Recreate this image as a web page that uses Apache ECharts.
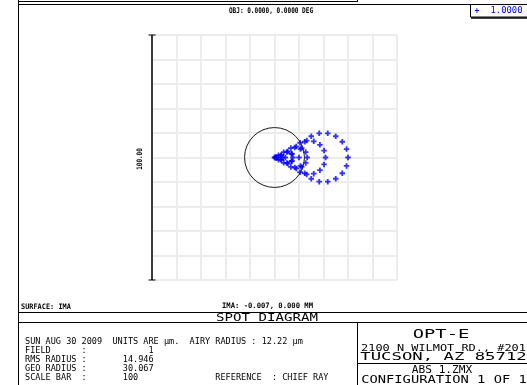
<!DOCTYPE html>
<html>
<head>
<meta charset="utf-8">
<script src="https://cdn.jsdelivr.net/npm/echarts@6/dist/echarts.min.js"></script>
<style>
  html, body { margin: 0; padding: 0; background: #fff; }
  #chart { width: 527px; height: 385px; }
</style>
</head>
<body>
<div id="chart"></div>
<script>
// Spot diagram, field 1: ray intercepts in micrometres relative to the chief ray
// (x to the right, y up), grouped by pupil ring.
const ring0 = [[0, 0]];
const ring1 = [[0.83, 0], [0.42, 0.24], [0.42, -0.24]];
const ring2 = [[3.33, 0], [2.78, 0.96], [1.67, 0.96], [1.11, 0], [1.67, -0.96], [2.78, -0.96]];
const ring3 = [[7.50, 0], [6.92, 1.61], [5.43, 2.46], [3.75, 2.17], [2.65, 0.86],
               [2.65, -0.86], [3.75, -2.17], [5.43, -2.46], [6.92, -1.61]];
const ring4 = [[13.33, 0], [12.74, 2.22], [11.11, 3.85], [8.89, 4.44], [6.67, 3.85], [5.04, 2.22],
               [4.44, 0], [5.04, -2.22], [6.67, -3.85], [8.89, -4.44], [11.11, -3.85], [12.74, -2.22]];
const ring5 = [[20.83, 0], [20.23, 2.82], [18.54, 5.16], [16.03, 6.60], [13.16, 6.91], [10.42, 6.01],
               [8.27, 4.08], [7.10, 1.44], [7.10, -1.44], [8.27, -4.08], [10.42, -6.01], [13.16, -6.91],
               [16.03, -6.60], [18.54, -5.16], [20.23, -2.82]];
const ring6 = [[30.00, 0], [29.40, 3.42], [27.66, 6.43], [25.00, 8.66], [21.74, 9.85], [18.26, 9.85],
               [15.00, 8.66], [12.34, 6.43], [10.60, 3.42], [10.00, 0], [10.60, -3.42], [12.34, -6.43],
               [15.00, -8.66], [18.26, -9.85], [21.74, -9.85], [25.00, -8.66], [27.66, -6.43], [29.40, -3.42]];

const airyRadius = 12.22;          // µm
const scaleBar = 100;              // µm, full box width
const axisMin = -50, axisMax = 50, gridStep = 10;

const headerText = 'OBJ: 0.0000, 0.0000 DEG';
const surfaceText = 'SURFACE: IMA';
const imageText = 'IMA: -0.007, 0.000 MM';
const titleText = 'SPOT DIAGRAM';
const scaleLabel = '100.00';
const wavelengthLabel = '1.0000';
const infoLines = [
  'SUN AUG 30 2009  UNITS ARE µm.  AIRY RADIUS : 12.22 µm',
  'FIELD      :            1',
  'RMS RADIUS :       14.946',
  'GEO RADIUS :       30.067',
  'SCALE BAR  :       100               REFERENCE  : CHIEF RAY'
];
const companyLines = ['OPT-E', '2100 N WILMOT RD., #201', 'TUCSON, AZ 85712'];
const fileLines = ['ABS 1.ZMX', 'CONFIGURATION 1 OF 1'];

const MONO = '"DejaVu Sans Mono", "Liberation Mono", monospace';
const BLUE = '#0000ff';

function txt(x, y, text, size, o) {
  o = o || {};
  const align = o.align || 'left';
  return {
    type: 'text', x: x, y: y, silent: true,
    scaleX: o.sx || 1, rotation: o.rot || 0,
    style: {
      text: text,
      font: (o.weight || 'normal') + ' ' + size + 'px ' + MONO,
      fill: o.color || '#000',
      align: align, verticalAlign: 'middle',
      textAlign: align, textVerticalAlign: 'middle'
    }
  };
}
function seg(x1, y1, x2, y2, w) {
  return { type: 'line', silent: true, shape: { x1: x1, y1: y1, x2: x2, y2: y2 },
           style: { stroke: '#000', lineWidth: w || 1 } };
}
function infoRow(i) { return 342 + i * 9; }

const chart = echarts.init(document.getElementById('chart'), null, { renderer: 'canvas' });

const plusPath = 'path://M2,0H4V2H6V4H4V6H2V4H0V2H2Z';
const spots = [].concat(ring0, ring1, ring2, ring3, ring4, ring5, ring6);

const axisCommon = {
  type: 'value', min: axisMin, max: axisMax, interval: gridStep,
  axisLine: { show: false }, axisTick: { show: false }, axisLabel: { show: false },
  splitLine: { show: true, lineStyle: { color: '#ececec', width: 2 } }
};

chart.setOption({
  animation: false,
  backgroundColor: '#fff',
  grid: { left: 152, top: 35, width: 245, height: 245, containLabel: false },
  xAxis: Object.assign({}, axisCommon),
  yAxis: Object.assign({}, axisCommon),
  series: [
    {
      // Airy disk, centred on the chief ray
      type: 'custom',
      data: [[0, 0, airyRadius]],
      renderItem: function (params, api) {
        const c = api.coord([api.value(0), api.value(1)]);
        const r = api.size([api.value(2), 0])[0];
        return { type: 'circle', shape: { cx: c[0], cy: c[1], r: r },
                 style: { fill: 'none', stroke: '#1a1a1a', lineWidth: 1 } };
      },
      z: 2
    },
    {
      // Vertical scale bar along the left edge of the box
      type: 'custom',
      data: [[axisMin, axisMin, axisMin + scaleBar]],
      renderItem: function (params, api) {
        const p0 = api.coord([api.value(0), api.value(1)]);
        const p1 = api.coord([api.value(0), api.value(2)]);
        const x = Math.round(p0[0]);
        return { type: 'group', children: [
          { type: 'line', shape: { x1: x, y1: p0[1], x2: x, y2: p1[1] }, style: { stroke: '#000', lineWidth: 1.5 } },
          { type: 'line', shape: { x1: x - 3.5, y1: p0[1], x2: x + 3.5, y2: p0[1] }, style: { stroke: '#000', lineWidth: 1 } },
          { type: 'line', shape: { x1: x - 3.5, y1: p1[1], x2: x + 3.5, y2: p1[1] }, style: { stroke: '#000', lineWidth: 1 } }
        ] };
      },
      z: 3
    },
    {
      type: 'scatter',
      data: spots,
      symbol: plusPath,
      symbolSize: 5.5,
      itemStyle: { color: BLUE },
      z: 4
    }
  ],
  graphic: [
    // outer frame
    seg(18.5, 0, 18.5, 385),
    seg(18, 1.5, 357, 1.5),
    seg(357.5, 0, 357.5, 2),
    seg(18, 4.5, 527, 4.5),
    // wavelength key
    { type: 'rect', silent: true, shape: { x: 470.5, y: 4.5, width: 60, height: 12.5 },
      style: { fill: '#fff', stroke: '#000', lineWidth: 1 } },
    seg(471, 18, 527, 18, 1.5),
    txt(477, 11, '+', 8, { align: 'center', color: BLUE, weight: 'bold' }),
    txt(506.5, 11, wavelengthLabel, 8.5, { align: 'center', color: BLUE, sx: 1.05 }),
    // header and axis label
    txt(271, 11, headerText, 7.8, { align: 'center', weight: 'bold', sx: 0.78 }),
    txt(140, 159, scaleLabel, 7.5, { align: 'center', weight: 'bold', sx: 0.8, rot: Math.PI / 2 }),
    // footer bands
    txt(21, 307, surfaceText, 7.5, { weight: 'bold', sx: 0.92 }),
    txt(267.5, 306.5, imageText, 7.5, { align: 'center', weight: 'bold', sx: 0.96 }),
    seg(18, 312.5, 527, 312.5),
    txt(267, 318, titleText, 9.6, { align: 'center', sx: 1.47 }),
    seg(18, 322.5, 527, 322.5),
    seg(357.5, 322.5, 357.5, 385),
    seg(357.5, 363.5, 527, 363.5),
    // run information
    txt(25, infoRow(0), infoLines[0], 9.2, { sx: 0.93 }),
    txt(25, infoRow(1), infoLines[1], 9.2, { sx: 0.93 }),
    txt(25, infoRow(2), infoLines[2], 9.2, { sx: 0.93 }),
    txt(25, infoRow(3), infoLines[3], 9.2, { sx: 0.93 }),
    txt(25, infoRow(4), infoLines[4], 9.2, { sx: 0.93 }),
    // title block
    txt(441, 335, companyLines[0], 12.5, { align: 'center', sx: 1.5 }),
    txt(443.5, 348.5, companyLines[1], 9.4, { align: 'center', sx: 1.27 }),
    txt(443.5, 357.5, companyLines[2], 11, { align: 'center', sx: 1.57 }),
    txt(442, 370, fileLines[0], 10, { align: 'center', sx: 1.12 }),
    txt(444, 380.5, fileLines[1], 11, { align: 'center', sx: 1.25 })
  ]
});
</script>
</body>
</html>
